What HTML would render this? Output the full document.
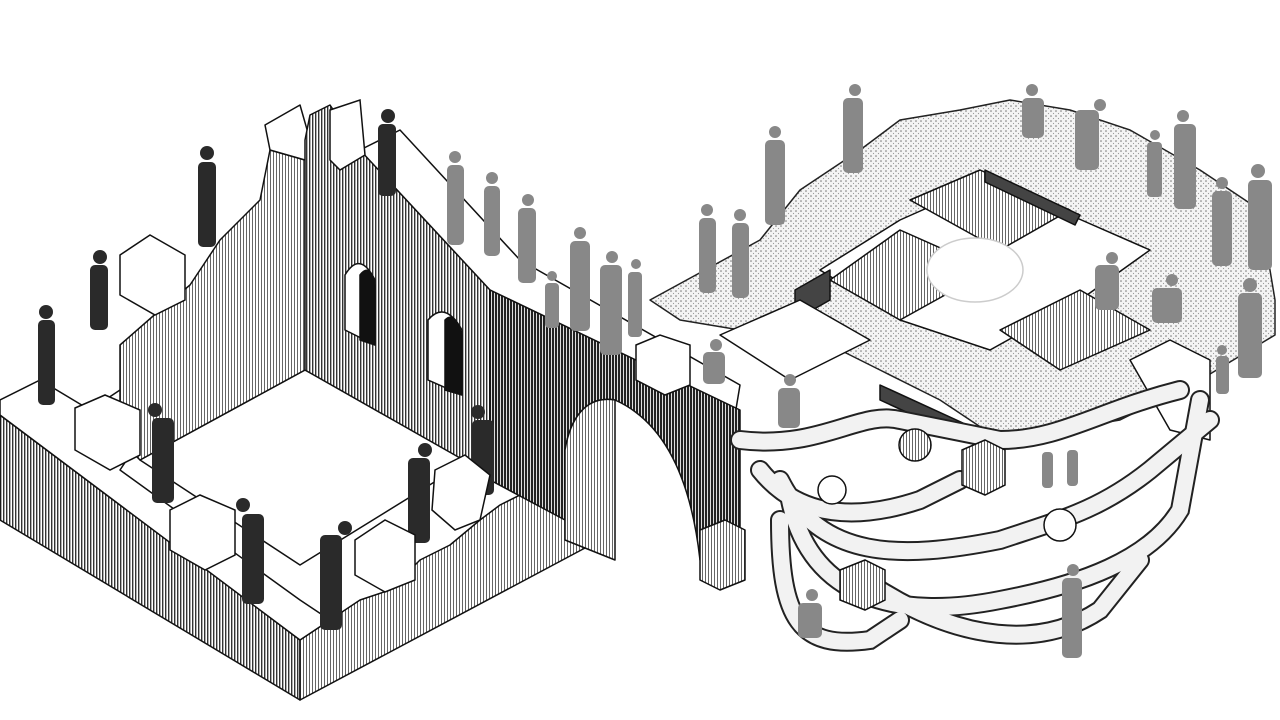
<!DOCTYPE html>
<html><head><meta charset="utf-8"><style>
html,body{margin:0;padding:0;background:#fff;width:1280px;height:720px;overflow:hidden}
</style></head><body>
<svg width="1280" height="720" viewBox="0 0 1280 720" xmlns="http://www.w3.org/2000/svg">
<defs>
<pattern id="v" width="3" height="3" patternUnits="userSpaceOnUse"><rect width="3" height="3" fill="#fff"/><rect width="1.4" height="3" fill="#333"/></pattern>
<pattern id="vd" width="3" height="3" patternUnits="userSpaceOnUse"><rect width="3" height="3" fill="#ddd"/><rect width="2" height="3" fill="#222"/></pattern>
<pattern id="vl" width="3" height="3" patternUnits="userSpaceOnUse"><rect width="3" height="3" fill="#fff"/><rect width="1" height="3" fill="#666"/></pattern>
<pattern id="g" width="5" height="5" patternUnits="userSpaceOnUse"><rect width="5" height="5" fill="#f4f4f4"/><circle cx="1" cy="1" r="0.8" fill="#777"/><circle cx="3.5" cy="3.5" r="0.6" fill="#999"/></pattern>
</defs>
<g stroke="#111" stroke-width="1.5" stroke-linejoin="round">
<polygon points="0,415 300,640 300,700 0,520" fill="url(#v)"/>
<polygon points="300,640 330,620 360,600 390,590 420,560 450,545 480,520 500,505 540,485 600,480 600,540 300,700" fill="url(#vl)"/>
<polygon points="0,400 40,380 90,410 120,390 150,410 140,440 120,470 300,600 330,620 300,640 0,415" fill="#fff"/>
<polygon points="140,460 305,370 470,460 300,565" fill="#fff"/>
<polygon points="120,345 160,310 190,285 220,240 260,200 270,150 305,160 305,370 140,460 120,440" fill="url(#vl)"/>
<polygon points="265,125 300,105 310,140 305,160 270,150" fill="#fff"/>
<polygon points="305,140 310,115 330,105 360,150 490,285 490,475 305,370" fill="url(#v)"/>
<path d="M345,330 L345,275 Q360,250 375,280 L375,345 Z" fill="#fff"/>
<path d="M360,340 L360,275 Q370,262 375,285 L375,345 Z" fill="#111"/>
<path d="M428,380 L428,320 Q445,300 462,330 L462,395 Z" fill="#fff"/>
<path d="M445,390 L445,320 Q455,310 462,335 L462,395 Z" fill="#111"/>
<path d="M500,440 L500,400 Q515,385 530,405 L530,460 Z" fill="#111"/>
<polygon points="360,150 400,130 520,260 740,385 735,415 490,290" fill="#fff"/>
<path d="M490,290 L740,410 L740,560 L700,560 C690,470 660,420 615,400 C585,395 570,420 565,450 L565,520 L490,480 Z" fill="url(#vd)"/>
<path d="M565,450 C570,420 585,395 615,400 L615,560 L565,540 Z" fill="url(#vl)"/>
<polygon points="700,530 725,520 745,530 745,580 720,590 700,580" fill="url(#vl)"/>
<path d="M650,300 L760,240 L800,190 L860,150 L900,120 L960,110 L1010,100 L1070,110 L1130,130 L1200,170 L1260,210 L1275,300 L1275,335 L1200,380 L1120,420 L1000,440 L940,400 L880,370 L800,330 L740,330 L680,320 Z" fill="url(#g)" stroke="#222"/>
<polygon points="820,270 900,220 990,180 1070,215 1150,250 1080,300 990,350 900,320" fill="#fff"/>
<polygon points="910,200 980,170 1070,210 1000,250" fill="url(#vl)"/>
<polygon points="900,230 990,270 900,320 830,280" fill="url(#vl)"/>
<polygon points="1000,330 1080,290 1150,330 1060,370" fill="url(#vl)"/>
<ellipse cx="975" cy="270" rx="48" ry="32" fill="#fff" stroke="#ccc"/>
<polygon points="795,290 830,270 830,300 795,320" fill="#444"/>
<polygon points="880,385 1000,440 1000,455 880,400" fill="#444"/>
<polygon points="985,170 1080,215 1075,225 985,182" fill="#444"/>
<polygon points="720,335 800,300 870,340 790,380" fill="#fff"/>
<polygon points="1130,360 1170,340 1210,360 1210,440 1170,430" fill="#fff"/>
</g>
<g fill="none" stroke-linecap="round">
<g stroke="#222" stroke-width="20">
<path d="M740,440 C820,450 860,410 900,420 L1000,440 C1060,440 1100,410 1180,390"/>
<path d="M760,470 C800,520 860,520 920,500 L960,480"/>
<path d="M780,480 C820,560 900,560 1000,540 C1060,520 1100,510 1150,470 L1210,420"/>
<path d="M790,500 C810,600 900,620 1000,600 C1080,585 1150,560 1180,510 L1200,400"/>
<path d="M780,520 C780,620 800,650 870,640 L900,620"/>
<path d="M880,590 C960,640 1040,650 1100,610 L1140,560"/>
</g>
<g stroke="#f2f2f2" stroke-width="16">
<path d="M740,440 C820,450 860,410 900,420 L1000,440 C1060,440 1100,410 1180,390"/>
<path d="M760,470 C800,520 860,520 920,500 L960,480"/>
<path d="M780,480 C820,560 900,560 1000,540 C1060,520 1100,510 1150,470 L1210,420"/>
<path d="M790,500 C810,600 900,620 1000,600 C1080,585 1150,560 1180,510 L1200,400"/>
<path d="M780,520 C780,620 800,650 870,640 L900,620"/>
<path d="M880,590 C960,640 1040,650 1100,610 L1140,560"/>
</g>
</g>
<g stroke="#111" stroke-width="1.5">
<polygon points="962,450 985,440 1005,450 1005,485 985,495 962,485" fill="url(#vl)"/>
<polygon points="840,570 865,560 885,570 885,600 865,610 840,600" fill="url(#vl)"/>
<circle cx="915" cy="445" r="16" fill="url(#vl)"/>
<circle cx="832" cy="490" r="14" fill="#fff"/>
<circle cx="1060" cy="525" r="16" fill="#fff"/>
</g>
<!-- dark suited people -->
<g fill="#2a2a2a">
<circle cx="46" cy="312" r="7"/><rect x="38" y="320" width="17" height="85" rx="5"/>
<circle cx="100" cy="257" r="7"/><rect x="90" y="265" width="18" height="65" rx="5"/>
<circle cx="207" cy="153" r="7"/><rect x="198" y="162" width="18" height="85" rx="5"/>
<circle cx="388" cy="116" r="7"/><rect x="378" y="124" width="18" height="72" rx="5"/>
<circle cx="155" cy="410" r="7"/><rect x="152" y="418" width="22" height="85" rx="5"/>
<circle cx="243" cy="505" r="7"/><rect x="242" y="514" width="22" height="90" rx="5"/>
<circle cx="345" cy="528" r="7"/><rect x="320" y="535" width="22" height="95" rx="5"/>
<circle cx="425" cy="450" r="7"/><rect x="408" y="458" width="22" height="85" rx="5"/>
<circle cx="478" cy="412" r="7"/><rect x="472" y="420" width="22" height="75" rx="5"/>
</g>
<!-- grey people -->
<g fill="#888">
<circle cx="455" cy="157" r="6"/><rect x="447" y="165" width="17" height="80" rx="5"/>
<circle cx="492" cy="178" r="6"/><rect x="484" y="186" width="16" height="70" rx="5"/>
<circle cx="528" cy="200" r="6"/><rect x="518" y="208" width="18" height="75" rx="5"/>
<circle cx="580" cy="233" r="6"/><rect x="570" y="241" width="20" height="90" rx="5"/>
<circle cx="612" cy="257" r="6"/><rect x="600" y="265" width="22" height="90" rx="5"/>
<circle cx="552" cy="276" r="5"/><rect x="545" y="283" width="14" height="45" rx="4"/>
<circle cx="636" cy="264" r="5"/><rect x="628" y="272" width="14" height="65" rx="4"/>
<circle cx="707" cy="210" r="6"/><rect x="699" y="218" width="17" height="75" rx="5"/>
<circle cx="740" cy="215" r="6"/><rect x="732" y="223" width="17" height="75" rx="5"/>
<circle cx="775" cy="132" r="6"/><rect x="765" y="140" width="20" height="85" rx="5"/>
<circle cx="855" cy="90" r="6"/><rect x="843" y="98" width="20" height="75" rx="5"/>
<circle cx="1032" cy="90" r="6"/><rect x="1022" y="98" width="22" height="40" rx="5"/>
<circle cx="1100" cy="105" r="6"/><rect x="1075" y="110" width="24" height="60" rx="5"/>
<circle cx="1155" cy="135" r="5"/><rect x="1147" y="142" width="15" height="55" rx="4"/>
<circle cx="1183" cy="116" r="6"/><rect x="1174" y="124" width="22" height="85" rx="5"/>
<circle cx="1222" cy="183" r="6"/><rect x="1212" y="191" width="20" height="75" rx="5"/>
<circle cx="1258" cy="171" r="7"/><rect x="1248" y="180" width="24" height="90" rx="5"/>
<circle cx="1250" cy="285" r="7"/><rect x="1238" y="293" width="24" height="85" rx="5"/>
<circle cx="1222" cy="350" r="5"/><rect x="1216" y="356" width="13" height="38" rx="4"/>
<circle cx="1112" cy="258" r="6"/><rect x="1095" y="265" width="24" height="45" rx="5"/>
<circle cx="1172" cy="280" r="6"/><rect x="1152" y="288" width="30" height="35" rx="5"/>
<circle cx="1073" cy="570" r="6"/><rect x="1062" y="578" width="20" height="80" rx="5"/>
<circle cx="812" cy="595" r="6"/><rect x="798" y="603" width="24" height="35" rx="5"/>
<circle cx="716" cy="345" r="6"/><rect x="703" y="352" width="22" height="32" rx="5"/>
<circle cx="790" cy="380" r="6"/><rect x="778" y="388" width="22" height="40" rx="5"/>
<rect x="1042" y="452" width="11" height="36" rx="4"/><rect x="1067" y="450" width="11" height="36" rx="4"/>
</g>
<g stroke="#111" stroke-width="1.5" fill="#fff">
<polygon points="120,255 150,235 185,255 185,300 155,315 120,295"/>
<polygon points="75,408 105,395 140,410 140,455 110,470 75,450"/>
<polygon points="170,510 200,495 235,510 235,555 205,570 170,550"/>
<polygon points="330,110 360,100 365,155 340,170 330,160"/>
<polygon points="355,540 385,520 415,535 415,580 385,592 355,575"/>
<polygon points="435,470 465,455 490,475 480,520 455,530 432,510"/>
<polygon points="636,345 660,335 690,345 690,385 665,395 636,380"/>
</g>
</svg>
</body></html>
